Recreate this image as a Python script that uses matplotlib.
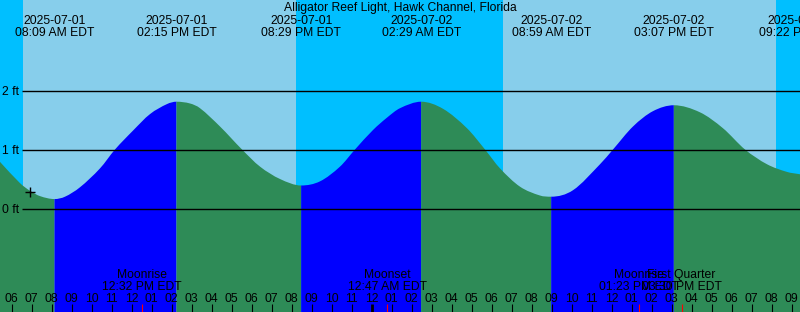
from datetime import datetime

import matplotlib
matplotlib.use("Agg")
import matplotlib.pyplot as plt
from matplotlib.patches import PathPatch
from matplotlib.path import Path

# Tide events (top labels) and their kind
tide_times = ["2025-07-01 08:09", "2025-07-01 14:15", "2025-07-01 20:29",
              "2025-07-02 02:29", "2025-07-02 08:59", "2025-07-02 15:07",
              "2025-07-02 21:22"]
tide_kind = ["low", "high", "low", "high", "low", "high", "low"]

# Sunrise / sunset
sunrise_times = ["2025-07-01 06:35", "2025-07-02 06:35"]
sunset_times = ["2025-07-01 20:13", "2025-07-02 20:13"]

# Moon events
moon_names = ["Moonrise", "Moonset", "Moonrise", "First Quarter"]
moon_times = ["2025-07-01 12:32", "2025-07-02 00:47", "2025-07-02 13:23", "2025-07-02 15:30"]

# Water level (hours after 2025-07-01 00:00, feet)
curve_hours = [5.425, 6.425, 6.925, 7.425, 8.15, 8.675, 9.425, 10.425, 11.175,
               12.075, 12.925, 13.775, 14.25, 14.925, 15.425, 16.425, 17.525,
               18.425, 19.425, 20.483, 21.425, 22.425, 23.175, 24.075, 24.775,
               25.425, 26.483, 27.575, 28.775, 29.675, 30.425, 31.425, 32.425,
               32.983, 34.075, 35.425, 36.075, 37.075, 38.075, 39.117, 40.425,
               41.575, 42.675, 43.775, 44.775, 45.425]
curve_ft = [0.79, 0.43, 0.30, 0.21, 0.16, 0.20, 0.36, 0.68, 1.00,
            1.32, 1.60, 1.77, 1.81, 1.78, 1.70, 1.39, 1.00,
            0.71, 0.50, 0.39, 0.46, 0.71, 1.00, 1.33, 1.54,
            1.70, 1.81, 1.69, 1.36, 1.00, 0.68, 0.37, 0.22,
            0.20, 0.31, 0.75, 1.00, 1.39, 1.65, 1.75, 1.63,
            1.36, 1.00, 0.75, 0.62, 0.58]

# current-time marker
marker_hour = 6.925
marker_ft = 0.28

title = "Alligator Reef Light, Hawk Channel, Florida"

BASE = datetime(2025, 7, 1)
DAY = "#87CEEB"
NIGHT = "#00BFFF"
RISING = "#0000FF"
FALLING = "#2E8B57"
FS = 8.7


def hours(s):
    return (datetime.strptime(s, "%Y-%m-%d %H:%M") - BASE).total_seconds() / 3600


def px_x(x):
    return 5.425 + x / 20.0


def px_y(y):
    return (208.5 - y) / 59.0


def smooth_segment(pts, bottom, flat_start, flat_end):
    # smooth curve through the read points (cubic Hermite as Bezier), closed to the bottom
    n = len(pts)
    slopes = []
    for i in range(n):
        if (i == 0 and flat_start) or (i == n - 1 and flat_end):
            slopes.append(0.0)
            continue
        a = pts[max(i - 1, 0)]
        b = pts[min(i + 1, n - 1)]
        slopes.append((b[1] - a[1]) / (b[0] - a[0]))
    verts = [pts[0]]
    codes = [Path.MOVETO]
    for i in range(n - 1):
        (x1, y1), (x2, y2) = pts[i], pts[i + 1]
        dx = (x2 - x1) / 3
        verts += [(x1 + dx, y1 + slopes[i] * dx), (x2 - dx, y2 - slopes[i + 1] * dx), (x2, y2)]
        codes += [Path.CURVE4] * 3
    verts += [(pts[-1][0], bottom), (pts[0][0], bottom), pts[0]]
    codes += [Path.LINETO, Path.LINETO, Path.CLOSEPOLY]
    return Path(verts, codes)


fig = plt.figure(figsize=(8, 3.12), dpi=100)
ax = fig.add_axes([0, 0, 1, 1])
ax.set_xlim(px_x(0), px_x(800))
ax.set_ylim(px_y(312), px_y(0))
ax.axis("off")
plt.rcParams["font.family"] = ["Liberation Sans", "DejaVu Sans"]

# day / night background
ax.axvspan(px_x(0), px_x(800), color=NIGHT, lw=0, zorder=0)
for rise, sset in zip(sunrise_times, sunset_times):
    ax.axvspan(hours(rise), hours(sset), color=DAY, lw=0, zorder=0)

# water, coloured by rising / falling
bottom = px_y(312)
event_h = [hours(t) for t in tide_times if hours(t) < curve_hours[-1] - 0.2]
bounds = [curve_hours[0]] + event_h + [curve_hours[-1]]
for i in range(len(bounds) - 1):
    a, b = bounds[i], bounds[i + 1]
    seg = [(t, h) for t, h in zip(curve_hours, curve_ft) if a - 0.01 <= t <= b + 0.01]
    kind = tide_kind[i] if i < len(tide_kind) else "low"
    path = smooth_segment(seg, bottom, i > 0, i < len(bounds) - 2)
    ax.add_patch(PathPatch(path, facecolor=RISING if kind == "high" else FALLING,
                           edgecolor="none", lw=0, zorder=1))

# height lines
for ft in [0, 1, 2]:
    ax.hlines(ft, px_x(22), px_x(800), color="black", lw=1, zorder=3)
    ax.text(px_x(2), ft - 4.5 / 59, f"{ft} ft", fontsize=FS, va="baseline", ha="left", zorder=4)

ax.plot(marker_hour, marker_ft, marker="+", color="black", ms=6.5, mew=1, zorder=4)

# title and tide labels
ax.text(px_x(400), px_y(11), title, fontsize=FS, ha="center", va="baseline", zorder=4)
for t in tide_times:
    d = datetime.strptime(t, "%Y-%m-%d %H:%M")
    ax.text(hours(t), px_y(24), d.strftime("%Y-%m-%d"), fontsize=FS, ha="center", va="baseline", zorder=4)
    ax.text(hours(t), px_y(36), d.strftime("%I:%M %p EDT"), fontsize=FS, ha="center", va="baseline", zorder=4)

# hour ticks
for h in range(6, 46):
    lw = 2.0 if h == 24 else 0.8
    ax.vlines(h, px_y(304), bottom, color="black", lw=lw, zorder=3)
    ax.text(h, px_y(301.7), f"{(h % 12) or 12:02d}", fontsize=FS, ha="center", va="baseline", zorder=4)

# moon events
for name, t in zip(moon_names, moon_times):
    d = datetime.strptime(t, "%Y-%m-%d %H:%M")
    ax.vlines(hours(t), px_y(304), bottom, color="red", lw=0.8, zorder=3)
    ax.text(hours(t), px_y(278.3), name, fontsize=FS, ha="center", va="baseline", zorder=4)
    ax.text(hours(t), px_y(290), d.strftime("%I:%M %p EDT"), fontsize=FS, ha="center", va="baseline", zorder=4)

fig.savefig("out.png", dpi=100)
